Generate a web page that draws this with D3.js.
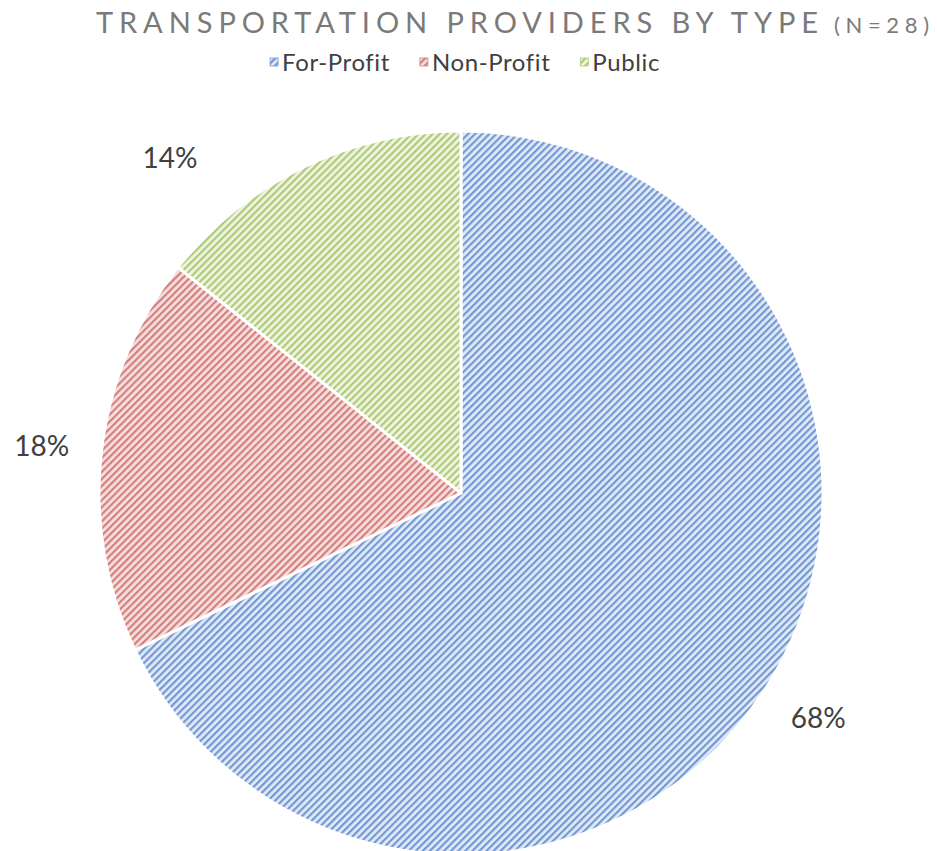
<!DOCTYPE html>
<html>
<head>
<meta charset="utf-8">
<script src="https://cdn.jsdelivr.net/npm/d3@7"></script>
<style>
  body { margin: 0; background: #fff; }
  text { font-family: "Lato", "Open Sans", sans-serif; }
</style>
</head>
<body>
<div id="chart"></div>
<script>
var categories = ["For-Profit", "Non-Profit", "Public"];
var counts = [19, 5, 4];
var labels = ["68%", "18%", "14%"];
var stripeColors = ["#7398d3", "#d3807e", "#afca78"];
var backColors = ["#e1eaf7", "#f7dfde", "#eff5e2"];

var width = 937, height = 851;
var cx = 461, cy = 493, radius = 362;

var svg = d3.select("#chart")
    .append("svg")
    .attr("width", width)
    .attr("height", height);

// hatch patterns, one for each slice
var defs = svg.append("defs");
categories.forEach(function (c, i) {
    var p = defs.append("pattern")
        .attr("id", "hatch" + i)
        .attr("patternUnits", "userSpaceOnUse")
        .attr("width", 5)
        .attr("height", 5)
        .attr("patternTransform", "rotate(45)");
    p.append("rect")
        .attr("width", 5)
        .attr("height", 5)
        .attr("fill", backColors[i]);
    p.append("rect")
        .attr("width", 2.2)
        .attr("height", 5)
        .attr("fill", stripeColors[i]);
});

// title
svg.append("text")
    .attr("x", 96)
    .attr("y", 33)
    .attr("textLength", 722)
    .attr("lengthAdjust", "spacing")
    .attr("font-size", 29)
    .attr("fill", "#7a7a7a")
    .text("TRANSPORTATION PROVIDERS BY TYPE");

svg.append("text")
    .attr("x", 834)
    .attr("y", 33)
    .attr("textLength", 95)
    .attr("lengthAdjust", "spacing")
    .attr("font-size", 22)
    .attr("fill", "#7a7a7a")
    .text("(N=28)");

// legend
var legend = svg.append("g");
var lx = 0, gap = 30;
categories.forEach(function (c, i) {
    var item = legend.append("g").attr("transform", "translate(" + lx + ",0)");
    item.append("rect")
        .attr("x", 0)
        .attr("y", -4)
        .attr("width", 8)
        .attr("height", 8)
        .attr("fill", "url(#hatch" + i + ")")
        .attr("stroke", stripeColors[i])
        .attr("stroke-width", 0.8);
    var t = item.append("text")
        .attr("x", 12)
        .attr("y", 8.5)
        .attr("font-size", 24)
        .attr("letter-spacing", 0.6)
        .attr("fill", "#404040")
        .text(c);
    lx += 12 + t.node().getComputedTextLength() + gap;
});
legend.attr("transform", "translate(" + (465 - (lx - gap) / 2) + ",62)");

// pie
var pie = d3.pie().sort(null).value(function (d) { return d; });
var arcs = pie(counts);
var arc = d3.arc().innerRadius(0).outerRadius(radius);
var labelArc = d3.arc().innerRadius(422).outerRadius(422);

var g = svg.append("g").attr("transform", "translate(" + cx + "," + cy + ")");

g.selectAll("path")
    .data(arcs)
    .enter()
    .append("path")
    .attr("d", arc)
    .attr("fill", function (d, i) { return "url(#hatch" + i + ")"; })
    .attr("stroke", "#fff")
    .attr("stroke-width", 3)
    .attr("stroke-linejoin", "round");

// excel best-fit nudge for the small slice label
var nudge = [[0, 0], [0, 0], [-108, 45]];

g.selectAll("text.lbl")
    .data(arcs)
    .enter()
    .append("text")
    .attr("class", "lbl")
    .attr("transform", function (d, i) {
        var c = labelArc.centroid(d);
        return "translate(" + (c[0] + nudge[i][0]) + "," + (c[1] + nudge[i][1]) + ")";
    })
    .attr("text-anchor", "middle")
    .attr("dy", "0.36em")
    .attr("font-size", 28)
    .attr("fill", "#404040")
    .text(function (d, i) { return labels[i]; });
</script>
</body>
</html>
